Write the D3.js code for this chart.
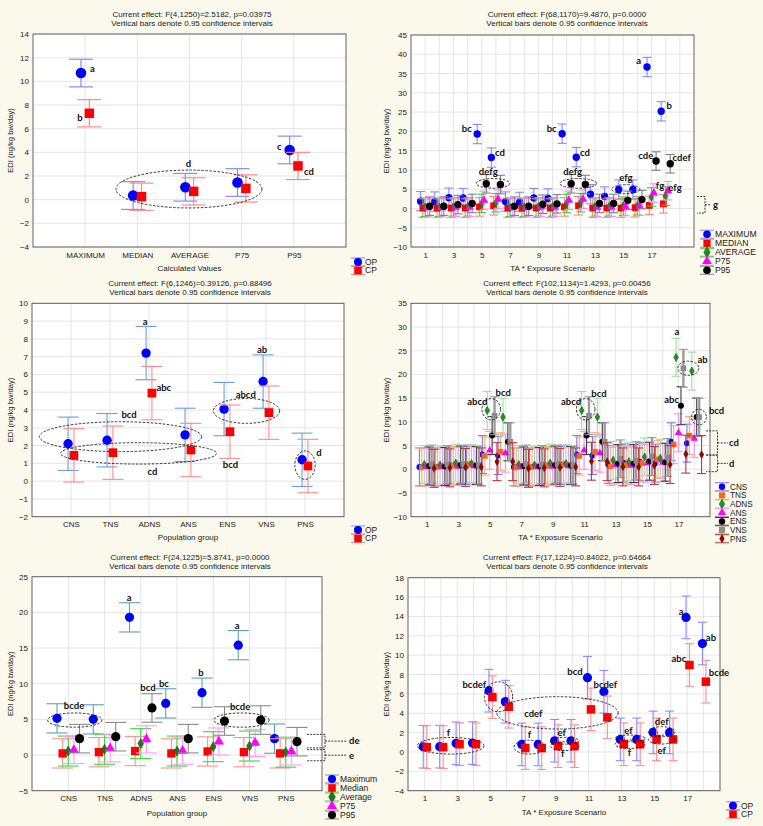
<!DOCTYPE html>
<html>
<head>
<meta charset="utf-8">
<script src="https://cdn.jsdelivr.net/npm/d3@7"></script>
<style>
  body { margin: 0; background: #fbf8ec; }
  svg { display: block; }
</style>
</head>
<body>
<svg id="fig" width="763" height="826"></svg>
<script>
// ---------- data ----------
const calcLabels = ["MAXIMUM", "MEDIAN", "AVERAGE", "P75", "P95"];
const opCalc = [10.7, 0.35, 1.05, 1.45, 4.2];
const cpCalc = [7.3, 0.25, 0.7, 0.95, 2.85];

const scenarios = [1, 2, 3, 4, 5, 6, 7, 8, 9, 10, 11, 12, 13, 14, 15, 16, 17, 18];
const scenarioTicks = [1, 3, 5, 7, 9, 11, 13, 15, 17];

const maxScen = [1.9, 1.8, 2.8, 2.7, 19.3, 13.2, 1.8, 1.7, 2.7, 2.6, 19.4, 13.3, 3.7, 3.1, 4.9, 4.9, 36.7, 25.2];
const medScen = [0.1, 0.1, 0.1, 0.1, 0.4, 0.7, 0.1, 0.1, 0.1, 0.1, 0.4, 0.7, 0.1, 0.1, 0.1, 0.2, 0.8, 1.2];
const avgScen = [0.3, 0.3, 0.4, 0.4, 1.3, 1.5, 0.3, 0.3, 0.4, 0.4, 1.3, 1.5, 0.4, 0.4, 0.6, 0.7, 3.0, 3.2];
const p75Scen = [0.2, 0.2, 0.3, 0.3, 2.1, 2.4, 0.2, 0.2, 0.3, 0.3, 2.1, 2.4, 0.3, 0.3, 0.5, 0.6, 4.0, 4.6];
const p95Scen = [0.6, 0.6, 1.0, 1.3, 6.4, 6.2, 0.6, 0.6, 1.1, 1.2, 6.4, 6.2, 1.3, 1.3, 2.1, 2.3, 12.3, 11.6];

const groups = ["CNS", "TNS", "ADNS", "ANS", "ENS", "VNS", "PNS"];
const opGroup = [2.1, 2.3, 7.2, 2.6, 4.05, 5.6, 1.2];
const cpGroup = [1.45, 1.6, 4.95, 1.75, 2.78, 3.85, 0.85];

const cnsScen = [0.5, 0.5, 0.8, 0.8, 3.1, 2.9, 0.5, 0.5, 0.8, 0.8, 3.1, 2.9, 1.0, 1.3, 1.6, 1.3, 5.8, 5.5];
const tnsScen = [0.4, 0.5, 0.8, 1.1, 2.8, 3.7, 0.4, 0.5, 0.8, 1.1, 2.8, 3.7, 0.6, 0.9, 1.3, 2.1, 5.2, 7.1];
const adnsScen = [1.0, 0.9, 1.3, 1.2, 12.4, 11.0, 1.0, 0.9, 1.3, 1.2, 12.4, 11.0, 1.9, 1.6, 2.6, 2.3, 23.6, 20.7];
const ansScen = [0.5, 0.5, 0.6, 0.7, 4.0, 3.4, 0.5, 0.5, 0.6, 0.7, 4.0, 3.4, 0.9, 0.8, 1.3, 1.4, 7.7, 6.5];
const ensScen = [0.7, 0.6, 0.9, 0.8, 7.1, 5.8, 0.7, 0.6, 0.9, 0.8, 7.1, 5.8, 1.2, 1.2, 1.7, 1.5, 13.4, 11.0];
const vnsScen = [1.1, 1.0, 1.1, 0.9, 11.3, 5.8, 1.1, 1.0, 1.1, 0.9, 11.3, 5.8, 2.2, 1.8, 2.7, 2.5, 21.3, 11.0];
const pnsScen = [0.2, 0.3, 0.4, 0.5, 1.6, 1.6, 0.2, 0.3, 0.4, 0.5, 1.7, 1.6, 0.5, 0.5, 0.8, 1.0, 3.2, 3.1];

const maxGroup = [5.14, 5.0, 19.3, 7.24, 8.74, 15.4, 2.3];
const medGroup = [0.23, 0.4, 0.56, 0.23, 0.5, 0.4, 0.23];
const avgGroup = [0.56, 0.8, 1.6, 0.56, 1.17, 1.26, 0.4];
const p75Group = [0.7, 0.93, 2.2, 0.6, 1.9, 1.7, 0.5];
const p95Group = [2.3, 2.57, 6.6, 2.3, 4.77, 4.9, 1.87];

const opScen = [0.54, 0.55, 0.89, 0.92, 6.33, 5.2, 0.78, 0.78, 1.16, 1.16, 7.67, 6.22, 1.3, 1.3, 2.02, 2.02, 13.9, 11.2];
const cpScen = [0.5, 0.5, 0.8, 0.8, 5.67, 4.67, 0.4, 0.4, 0.6, 0.6, 4.4, 3.57, 0.8, 0.8, 1.3, 1.3, 8.98, 7.26];

const barsNote = "Vertical bars denote 0.95 confidence intervals";
const yTitle = "EDI (ng/kg bw/day)";
const font = "'Liberation Sans', Arial, sans-serif";

const svg = d3.select("#fig");

function symbolPath(shape, r) {
    const types = { circle: d3.symbolCircle, square: d3.symbolSquare, diamond: d3.symbolDiamond, triangle: d3.symbolTriangle };
    const area = { circle: Math.PI * r * r, square: 3.6 * r * r, diamond: 2.4 * r * r, triangle: 2.8 * r * r }[shape];
    return d3.symbol().type(types[shape]).size(area)();
}

function drawPanel(p) {
    const b = p.box;
    const x = d3.scaleLinear().domain(p.xDomain).range([b.x0, b.x1]);
    const y = d3.scaleLinear().domain(p.yDomain).range([b.y1, b.y0]);
    const g = svg.append("g");

    g.append("rect")
        .attr("x", b.x0).attr("y", b.y0)
        .attr("width", b.x1 - b.x0).attr("height", b.y1 - b.y0)
        .attr("fill", "#fff");

    // grid
    g.append("g").selectAll("line").data(p.yTicks).join("line")
        .attr("x1", b.x0).attr("x2", b.x1)
        .attr("y1", d => y(d)).attr("y2", d => y(d))
        .attr("stroke", "#dedede").attr("stroke-width", 0.8);
    g.append("g").selectAll("line").data(p.xGrid).join("line")
        .attr("y1", b.y0).attr("y2", b.y1)
        .attr("x1", d => x(d)).attr("x2", d => x(d))
        .attr("stroke", "#dedede").attr("stroke-width", 0.8);

    // axes
    const ya = g.append("g").attr("transform", `translate(${b.x0},0)`)
        .call(d3.axisLeft(y).tickValues(p.yTicks).tickSize(0).tickPadding(4));
    const xa = g.append("g").attr("transform", `translate(0,${b.y1})`)
        .call(d3.axisBottom(x).tickValues(p.xTicks).tickFormat((d, i) => p.xLabels[i]).tickSize(0).tickPadding(5));
    [ya, xa].forEach(a => {
        a.select(".domain").remove();
        a.attr("font-family", font).attr("font-size", 8);
        a.selectAll("text").attr("fill", "#1a1a1a");
    });

    g.append("rect")
        .attr("x", b.x0).attr("y", b.y0)
        .attr("width", b.x1 - b.x0).attr("height", b.y1 - b.y0)
        .attr("fill", "none").attr("stroke", "#555").attr("stroke-width", 0.9);

    // series: error bars then markers
    p.series.forEach(s => {
        const pts = s.values.map((v, i) => ({ cx: x(p.xPos[i] + s.off), v: v }));
        const sg = g.append("g");
        sg.selectAll("line.bar").data(pts).join("line")
            .attr("x1", d => d.cx).attr("x2", d => d.cx)
            .attr("y1", d => y(d.v - s.ci)).attr("y2", d => y(d.v + s.ci))
            .attr("stroke", s.bar).attr("stroke-width", s.bw || 1.1);
        [-1, 1].forEach(sign => {
            sg.selectAll(null).data(pts).join("line")
                .attr("x1", d => d.cx - p.cap / 2).attr("x2", d => d.cx + p.cap / 2)
                .attr("y1", d => y(d.v + sign * s.ci)).attr("y2", d => y(d.v + sign * s.ci))
                .attr("stroke", s.bar).attr("stroke-width", 1.1);
        });
        sg.selectAll("path").data(pts).join("path")
            .attr("d", symbolPath(s.shape, s.r))
            .attr("transform", d => `translate(${d.cx},${y(d.v)})`)
            .attr("fill", s.fill)
            .attr("stroke", s.stroke || "none").attr("stroke-width", 0.6);
    });

    // dashed groupings
    g.append("g").selectAll("ellipse").data(p.ellipses).join("ellipse")
        .attr("cx", d => x(d.cx)).attr("cy", d => y(d.cy))
        .attr("rx", d => Math.abs(x(d.cx + d.rx) - x(d.cx)))
        .attr("ry", d => Math.abs(y(d.cy + d.ry) - y(d.cy)))
        .attr("fill", "none").attr("stroke", "#222")
        .attr("stroke-width", 0.9).attr("stroke-dasharray", "2.5,1.5");

    g.append("g").selectAll("text").data(p.notes).join("text")
        .attr("x", d => x(d.x)).attr("y", d => y(d.y)).attr("dy", "0.35em")
        .attr("text-anchor", "middle")
        .attr("font-family", "Lato, 'Open Sans', sans-serif")
        .attr("font-weight", "bold").attr("font-size", 9.5).attr("fill", "#111")
        .text(d => d.t);

    if (p.brackets) {
        const k = p.brackets;
        k.items.forEach(it => {
            const yt = y(it.top), yb = y(it.bot), ym = (yt + yb) / 2;
            const path = `M${k.x0},${yt}H${k.xv}V${yb}H${k.x0}M${k.xv},${ym}H${k.xm}`;
            g.append("path").attr("d", path).attr("fill", "none")
                .attr("stroke", "#222").attr("stroke-width", 0.9).attr("stroke-dasharray", "2,1.2");
            g.append("text").attr("x", k.xl).attr("y", ym).attr("dy", "0.35em")
                .attr("font-family", "Lato, 'Open Sans', sans-serif")
                .attr("font-weight", "bold").attr("font-size", 9.5).attr("fill", "#111")
                .text(it.label);
        });
    }

    // titles
    g.append("g").selectAll("text").data(p.title).join("text")
        .attr("x", p.titleX).attr("y", (d, i) => p.titleY[i]).attr("dy", "0.35em")
        .attr("text-anchor", "middle").attr("font-family", font).attr("font-size", 8)
        .attr("fill", "#1a1a1a").text(d => d);
    g.append("text")
        .attr("x", (b.x0 + b.x1) / 2).attr("y", p.xTitleY).attr("dy", "0.35em")
        .attr("text-anchor", "middle").attr("font-family", font).attr("font-size", 8)
        .attr("fill", "#1a1a1a").text(p.xTitle);
    g.append("text")
        .attr("transform", `translate(${p.yTitleX},${(b.y0 + b.y1) / 2}) rotate(-90)`)
        .attr("dy", "0.35em").attr("text-anchor", "middle")
        .attr("font-family", font).attr("font-size", 7.6).attr("fill", "#1a1a1a")
        .text(yTitle);

    // legend
    const L = p.legend;
    p.series.forEach((s, i) => {
        const ly = L.y + i * L.dy, lx = L.x;
        const lg = g.append("g");
        lg.append("path")
            .attr("d", `M${lx - 7},${ly - 4}H${lx + 7}M${lx},${ly - 4}V${ly + 4}M${lx - 7},${ly + 4}H${lx + 7}`)
            .attr("stroke", s.bar).attr("stroke-width", 1.1).attr("fill", "none");
        lg.append("path").attr("d", symbolPath(s.shape, L.r))
            .attr("transform", `translate(${lx},${ly})`)
            .attr("fill", s.fill).attr("stroke", s.stroke || "none").attr("stroke-width", 0.6);
        lg.append("text").attr("x", L.tx).attr("y", ly).attr("dy", "0.35em")
            .attr("font-family", font).attr("font-size", L.size).attr("fill", "#1a1a1a")
            .text(s.name);
    });
}

const idx5 = [1, 2, 3, 4, 5];
const idx7 = [1, 2, 3, 4, 5, 6, 7];

const panels = [
    {
        box: { x0: 33, x1: 346, y0: 34, y1: 247 },
        xDomain: [0, 6], yDomain: [-4, 14], yTicks: d3.range(-4, 15, 2),
        xPos: idx5, xTicks: idx5, xLabels: calcLabels, xGrid: idx5,
        title: ["Current effect: F(4,1250)=2.5182, p=0.03975", barsNote],
        titleX: 192, titleY: [14, 23.5], xTitle: "Calculated Values", xTitleY: 268, yTitleX: 10,
        cap: 24,
        series: [
            { name: "OP", values: opCalc, ci: 1.17, off: -0.08, shape: "circle", r: 5.3, fill: "#0000ff", bar: "#8080ff" },
            { name: "CP", values: cpCalc, ci: 1.15, off: 0.08, shape: "square", r: 5, fill: "#ff0000", bar: "#ff8080" }
        ],
        legend: { x: 358, y: 262, dy: 8.5, tx: 365, size: 8.5, r: 4 },
        notes: [
            { t: "a", x: 1.14, y: 11.05 }, { t: "b", x: 0.9, y: 6.93 }, { t: "c", x: 4.72, y: 4.48 },
            { t: "cd", x: 5.29, y: 2.34 }, { t: "d", x: 2.98, y: 3.08 }
        ],
        ellipses: [{ cx: 2.99, cy: 0.9, rx: 1.4, ry: 1.6 }]
    },
    {
        box: { x0: 411, x1: 694, y0: 35, y1: 247 },
        xDomain: [0, 20], yDomain: [-10, 45], yTicks: d3.range(-10, 46, 5),
        xPos: scenarios, xTicks: scenarioTicks, xLabels: scenarioTicks, xGrid: d3.range(1, 20),
        title: ["Current effect: F(68,1170)=9.4870, p=0.0000", barsNote],
        titleX: 567, titleY: [14, 23.5], xTitle: "TA * Exposure Scenario", xTitleY: 268, yTitleX: 386,
        cap: 9,
        series: [
            { name: "MAXIMUM", values: maxScen, ci: 2.5, off: -0.32, shape: "circle", r: 3.7, fill: "#0000ff", bar: "#8888ff" },
            { name: "MEDIAN", values: medScen, ci: 2.4, off: -0.16, shape: "square", r: 3.6, fill: "#ff0000", bar: "#ff8080" },
            { name: "AVERAGE", values: avgScen, ci: 2.4, off: 0, shape: "diamond", r: 3, fill: "#1e8c1e", stroke: "#0b5e0b", bar: "#22dd22" },
            { name: "P75", values: p75Scen, ci: 2.4, off: 0.16, shape: "triangle", r: 3.4, fill: "#ff00ff", bar: "#ff88ff" },
            { name: "P95", values: p95Scen, ci: 2.4, off: 0.32, shape: "circle", r: 3.7, fill: "#000", bar: "#808080" }
        ],
        legend: { x: 707, y: 234.3, dy: 9, tx: 715, size: 8.6, r: 3.8 },
        notes: [
            { t: "bc", x: 3.94, y: 20.8 }, { t: "cd", x: 6.29, y: 14.5 }, { t: "bc", x: 9.94, y: 20.8 },
            { t: "cd", x: 12.3, y: 14.5 }, { t: "a", x: 16.09, y: 38.3 }, { t: "b", x: 18.25, y: 26.6 },
            { t: "defg", x: 5.46, y: 9.45 }, { t: "defg", x: 11.43, y: 9.45 }, { t: "efg", x: 15.19, y: 7.9 },
            { t: "cde", x: 16.59, y: 13.7 }, { t: "cdef", x: 19.13, y: 13.3 }, { t: "fg", x: 17.6, y: 5.9 },
            { t: "efg", x: 18.66, y: 5.4 }
        ],
        ellipses: [
            { cx: 5.8, cy: 6.5, rx: 1.18, ry: 1.25 }, { cx: 11.82, cy: 6.5, rx: 1.3, ry: 1.25 },
            { cx: 15.18, cy: 5.0, rx: 1.0, ry: 1.17 }
        ],
        brackets: { x0: 697, xv: 705, xm: 711, xl: 713, items: [{ top: 3.1, bot: -1.2, label: "g" }] }
    },
    {
        box: { x0: 32, x1: 344, y0: 303.3, y1: 516.7 },
        xDomain: [0, 8], yDomain: [-2, 10], yTicks: d3.range(-2, 11, 1),
        xPos: idx7, xTicks: idx7, xLabels: groups, xGrid: idx7,
        title: ["Current effect: F(6,1246)=0.39126, p=0.88496", barsNote],
        titleX: 190, titleY: [283.3, 292.3], xTitle: "Population group", xTitleY: 537, yTitleX: 10,
        cap: 21,
        series: [
            { name: "OP", values: opGroup, ci: 1.5, off: -0.075, shape: "circle", r: 4.7, fill: "#0000ff", bar: "#6a9fe0" },
            { name: "CP", values: cpGroup, ci: 1.5, off: 0.075, shape: "square", r: 4.6, fill: "#ff0000", bar: "#ff8a8a" }
        ],
        legend: { x: 358, y: 530, dy: 8.5, tx: 365, size: 8.5, r: 4 },
        notes: [
            { t: "a", x: 2.9, y: 8.97 }, { t: "abc", x: 3.38, y: 5.27 }, { t: "ab", x: 5.9, y: 7.4 },
            { t: "abcd", x: 5.48, y: 4.88 }, { t: "bcd", x: 2.49, y: 3.72 }, { t: "cd", x: 3.09, y: 0.53 },
            { t: "bcd", x: 5.09, y: 0.9 }, { t: "d", x: 7.36, y: 1.6 }
        ],
        ellipses: [
            { cx: 2.27, cy: 2.5, rx: 2.08, ry: 0.84 }, { cx: 2.73, cy: 1.56, rx: 2.0, ry: 0.6 },
            { cx: 5.5, cy: 3.95, rx: 0.85, ry: 0.7 }, { cx: 7.0, cy: 0.9, rx: 0.26, ry: 0.8 }
        ]
    },
    {
        box: { x0: 411, x1: 710, y0: 303.3, y1: 516.7 },
        xDomain: [0, 19], yDomain: [-10, 35], yTicks: d3.range(-10, 36, 5),
        xPos: scenarios, xTicks: scenarioTicks, xLabels: scenarioTicks, xGrid: d3.range(1, 19),
        title: ["Current effect: F(102,1134)=1.4293, p=0.00456", barsNote],
        titleX: 567, titleY: [283.3, 292.3], xTitle: "TA * Exposure Scenario", xTitleY: 537, yTitleX: 386,
        cap: 9,
        series: [
            { name: "CNS", values: cnsScen, ci: 4, off: -0.465, shape: "circle", r: 3, fill: "#0000ff", bar: "#7878ff" },
            { name: "TNS", values: tnsScen, ci: 4, off: -0.31, shape: "square", r: 3, fill: "#f26b1d", bar: "#ffa868" },
            { name: "ADNS", values: adnsScen, ci: 4, off: -0.155, shape: "diamond", r: 2.8, fill: "#1e961e", stroke: "#0b5e0b", bar: "#9be39b" },
            { name: "ANS", values: ansScen, ci: 4, off: 0, shape: "triangle", r: 3, fill: "#ff00ff", bar: "#ff8cff" },
            { name: "ENS", values: ensScen, ci: 4, off: 0.155, shape: "circle", r: 3, fill: "#000", bar: "#3a3a3a" },
            { name: "VNS", values: vnsScen, ci: 4, off: 0.31, shape: "square", r: 3, fill: "#8c8c8c", bar: "#9c9c9c", bw: 2.4 },
            { name: "PNS", values: pnsScen, ci: 4, off: 0.465, shape: "diamond", r: 3, fill: "#8b0a0a", bar: "#c83232" }
        ],
        legend: { x: 722, y: 486.7, dy: 8.67, tx: 730, size: 8.2, r: 3.2 },
        notes: [
            { t: "abcd", x: 4.21, y: 14.2 }, { t: "bcd", x: 5.86, y: 16.2 }, { t: "abcd", x: 10.17, y: 14.2 },
            { t: "bcd", x: 11.94, y: 16.0 }, { t: "a", x: 16.9, y: 29.0 }, { t: "ab", x: 18.53, y: 23.2 },
            { t: "abc", x: 16.56, y: 14.6 }, { t: "bcd", x: 19.42, y: 12.3 }
        ],
        ellipses: [
            { cx: 5.1, cy: 12.65, rx: 0.59, ry: 2.25 }, { cx: 11.1, cy: 12.65, rx: 0.59, ry: 2.25 },
            { cx: 17.62, cy: 21.3, rx: 0.67, ry: 1.5 }, { cx: 18.3, cy: 11.0, rx: 0.47, ry: 1.65 }
        ],
        brackets: {
            x0: 706, xv: 717.5, xm: 728, xl: 729,
            items: [{ top: 8.1, bot: 3.0, label: "cd" }, { top: 3.0, bot: -0.5, label: "d" }]
        }
    },
    {
        box: { x0: 32, x1: 322, y0: 576.7, y1: 790.7 },
        xDomain: [0, 8], yDomain: [-5, 25], yTicks: d3.range(-5, 26, 5),
        xPos: idx7, xTicks: idx7, xLabels: groups, xGrid: idx7,
        title: ["Current effect: F(24,1225)=5.8741, p=0.0000", barsNote],
        titleX: 190, titleY: [556.7, 566], xTitle: "Population group", xTitleY: 813, yTitleX: 10,
        cap: 21,
        series: [
            { name: "Maximum", values: maxGroup, ci: 2.05, off: -0.31, shape: "circle", r: 4.6, fill: "#0000ff", bar: "#5aa0b8" },
            { name: "Median", values: medGroup, ci: 2.05, off: -0.155, shape: "square", r: 4.4, fill: "#ff0000", bar: "#ff9090" },
            { name: "Average", values: avgGroup, ci: 2.1, off: 0, shape: "diamond", r: 3.4, fill: "#1a7a1a", stroke: "#0b4f0b", bar: "#33dd33" },
            { name: "P75", values: p75Group, ci: 1.9, off: 0.155, shape: "triangle", r: 4, fill: "#ff00ff", bar: "#ff99ff" },
            { name: "P95", values: p95Group, ci: 2.0, off: 0.31, shape: "circle", r: 4.6, fill: "#000", bar: "#8a8a8a" }
        ],
        legend: { x: 332, y: 779, dy: 9, tx: 340, size: 8.6, r: 4 },
        notes: [
            { t: "a", x: 2.68, y: 22.07 }, { t: "a", x: 5.66, y: 18.1 }, { t: "b", x: 4.66, y: 11.6 },
            { t: "bc", x: 3.64, y: 9.96 }, { t: "bcd", x: 3.2, y: 9.44 }, { t: "bcde", x: 1.16, y: 6.9 },
            { t: "bcde", x: 5.74, y: 6.78 }
        ],
        ellipses: [{ cx: 1.18, cy: 4.9, rx: 0.75, ry: 1.0 }, { cx: 5.78, cy: 4.9, rx: 0.76, ry: 1.0 }],
        brackets: {
            x0: 307, xv: 325, xm: 347, xl: 349,
            items: [{ top: 2.9, bot: 1.0, label: "de" }, { top: 0.75, bot: -0.8, label: "e" }]
        }
    },
    {
        box: { x0: 408, x1: 720, y0: 577.7, y1: 790.7 },
        xDomain: [0, 19], yDomain: [-4, 18], yTicks: d3.range(-4, 19, 2),
        xPos: scenarios, xTicks: scenarioTicks, xLabels: scenarioTicks, xGrid: d3.range(1, 19),
        title: ["Current effect: F(17,1224)=0.84022, p=0.64664", barsNote],
        titleX: 567, titleY: [556.7, 566], xTitle: "TA * Exposure Scenario", xTitleY: 812, yTitleX: 386,
        cap: 9,
        series: [
            { name: "OP", values: opScen, ci: 2.2, off: -0.07, shape: "circle", r: 4.6, fill: "#0000ff", bar: "#8c8cff" },
            { name: "CP", values: cpScen, ci: 2.2, off: 0.14, shape: "square", r: 4.5, fill: "#ff0000", bar: "#ff8c8c" }
        ],
        legend: { x: 733, y: 805.7, dy: 8.6, tx: 741, size: 8.5, r: 4 },
        notes: [
            { t: "f", x: 2.47, y: 1.98 }, { t: "bcdef", x: 4.04, y: 7.0 }, { t: "cdef", x: 7.63, y: 3.98 },
            { t: "f", x: 7.39, y: 1.75 }, { t: "ef", x: 9.36, y: 1.98 }, { t: "f", x: 9.42, y: -0.22 },
            { t: "bcd", x: 10.17, y: 8.3 }, { t: "bcdef", x: 12.02, y: 7.0 }, { t: "ef", x: 13.42, y: 2.2 },
            { t: "f", x: 13.48, y: -0.05 }, { t: "def", x: 15.45, y: 3.12 }, { t: "ef", x: 15.45, y: 0.12 },
            { t: "a", x: 16.63, y: 14.5 }, { t: "ab", x: 18.45, y: 11.8 }, { t: "abc", x: 16.5, y: 9.67 },
            { t: "bcde", x: 18.94, y: 8.2 }
        ],
        ellipses: [
            { cx: 2.6, cy: 0.64, rx: 2.03, ry: 0.86 }, { cx: 5.51, cy: 5.7, rx: 0.86, ry: 1.55 },
            { cx: 9.1, cy: 4.04, rx: 3.7, ry: 1.67 }, { cx: 7.4, cy: 0.5, rx: 0.94, ry: 0.72 },
            { cx: 9.55, cy: 1.16, rx: 0.86, ry: 0.35 }, { cx: 9.55, cy: 0.6, rx: 0.86, ry: 0.46 },
            { cx: 13.52, cy: 1.4, rx: 0.91, ry: 0.35 }, { cx: 13.52, cy: 0.8, rx: 0.91, ry: 0.43 },
            { cx: 15.45, cy: 2.09, rx: 0.81, ry: 0.52 }, { cx: 15.45, cy: 1.28, rx: 0.81, ry: 0.46 }
        ]
    }
];

panels.forEach(drawPanel);
</script>
</body>
</html>
